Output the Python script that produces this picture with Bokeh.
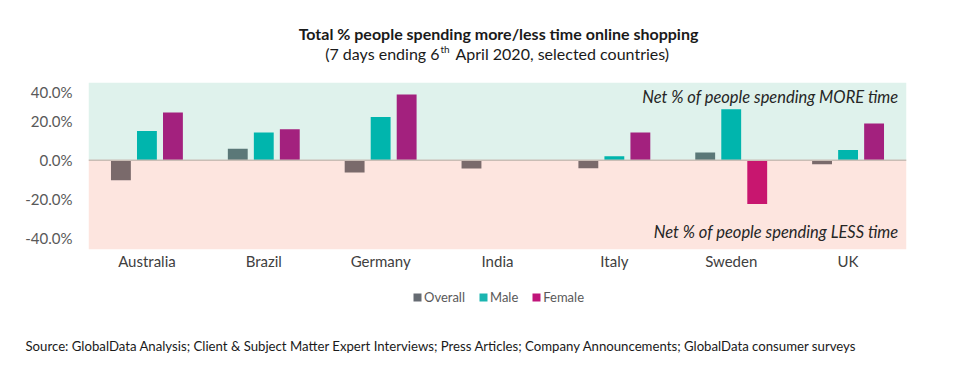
from bokeh.plotting import figure
from bokeh.layouts import column
from bokeh.models import (ColumnDataSource, FactorRange, Range1d, BoxAnnotation, Span,
                          Label, Legend, LegendItem, FixedTicker, CustomJSTickFormatter)
from bokeh.transform import dodge
from bokeh.embed import file_html
from bokeh.resources import INLINE

countries = ["Australia", "Brazil", "Germany", "India", "Italy", "Sweden", "UK"]
overall = [-10.2, 6.0, -6.2, -4.2, -4.0, 4.1, -2.0]
male = [15.1, 14.3, 22.3, 0.0, 2.1, 26.3, 5.3]
female = [24.6, 16.0, 33.8, 0.0, 14.3, -22.4, 18.9]
y_ticks = [-40, -20, 0, 20, 40]
series = ["Overall", "Male", "Female"]
series_colors = ["#666b72", "#1ab5b0", "#c0157a"]

FONT = "Lato"
W = 944

def colors(vals, pos, neg):
    return [pos if v >= 0 else neg for v in vals]

def blank(height):
    f = figure(width=W, height=height, x_range=Range1d(0, W), y_range=Range1d(height, 0),
               output_backend="svg", toolbar_location=None,
               min_border_left=0, min_border_right=0, min_border_top=0, min_border_bottom=0)
    f.axis.visible = False
    f.grid.visible = False
    f.outline_line_color = None
    return f

# ---------- header ----------
head = blank(82)
head.add_layout(Label(x=498, y=33, text="Total % people spending more/less time online shopping",
                      text_align="center", text_baseline="middle", text_font=FONT, text_font_style="bold",
                      text_font_size="16px", text_color="#1a1a1a"))
head.add_layout(Label(x=439, y=53, text="(7 days ending 6",
                      text_align="right", text_baseline="middle", text_font=FONT,
                      text_font_size="16px", text_color="#1a1a1a"))
head.add_layout(Label(x=440, y=48, text="th",
                      text_align="left", text_baseline="middle", text_font=FONT,
                      text_font_size="10px", text_color="#1a1a1a"))
head.add_layout(Label(x=455, y=53, text="April 2020, selected countries)",
                      text_align="left", text_baseline="middle", text_font=FONT,
                      text_font_size="16px", text_color="#1a1a1a"))

# ---------- main chart ----------
src = ColumnDataSource(dict(
    country=countries, overall=overall, male=male, female=female,
    c_overall=colors(overall, "#5b7878", "#7a6a6b"),
    c_male=colors(male, "#00b5ad", "#00b5ad"),
    c_female=colors(female, "#a3217e", "#c8166f"),
))

p = figure(x_range=FactorRange(*countries), y_range=Range1d(-45.8, 40),
           width=W, height=198, output_backend="svg", toolbar_location=None,
           min_border_left=88, min_border_right=38, min_border_top=0, min_border_bottom=31)
p.outline_line_color = None
p.xgrid.visible = False
p.ygrid.visible = False

p.add_layout(BoxAnnotation(bottom=0, fill_color="#dff2ec", fill_alpha=1, line_alpha=0, level="underlay"))
p.add_layout(BoxAnnotation(top=0, fill_color="#fde5df", fill_alpha=1, line_alpha=0, level="underlay"))

w = 0.17
p.vbar(x=dodge("country", -0.2226, range=p.x_range), top="overall", width=w, source=src,
       fill_color="c_overall", line_color=None)
p.vbar(x=dodge("country", 0.0, range=p.x_range), top="male", width=w, source=src,
       fill_color="c_male", line_color=None)
p.vbar(x=dodge("country", 0.2226, range=p.x_range), top="female", width=w, source=src,
       fill_color="c_female", line_color=None)

p.add_layout(Span(location=0, dimension="width", line_color="#c9bdb5", line_width=1.5))

p.yaxis.ticker = FixedTicker(ticks=y_ticks)
p.yaxis.formatter = CustomJSTickFormatter(code="return tick.toFixed(1) + '%';")
p.yaxis.axis_line_color = None
p.yaxis.major_tick_line_color = None
p.yaxis.minor_tick_line_color = None
p.yaxis.major_tick_out = 0
p.yaxis.major_tick_in = 0
p.yaxis.major_label_standoff = 16
p.yaxis.major_label_text_font = FONT
p.yaxis.major_label_text_font_size = "15px"
p.yaxis.major_label_text_color = "#595959"

p.xaxis.axis_line_color = None
p.xaxis.major_tick_line_color = None
p.xaxis.minor_tick_line_color = None
p.xaxis.major_tick_out = 0
p.xaxis.major_tick_in = 0
p.xaxis.major_label_standoff = 2
p.xaxis.major_label_text_font = FONT
p.xaxis.major_label_text_font_size = "15px"
p.xaxis.major_label_text_color = "#404040"

p.add_layout(Label(x=7, y=40, x_offset=-8, y_offset=-14, text="Net % of people spending MORE time",
                   text_align="right", text_baseline="middle", text_font=FONT, text_font_style="italic",
                   text_font_size="16.5px", text_color="#262626"))
p.add_layout(Label(x=7, y=-45.8, x_offset=-8, y_offset=18, text="Net % of people spending LESS time",
                   text_align="right", text_baseline="middle", text_font=FONT, text_font_style="italic",
                   text_font_size="16.5px", text_color="#262626"))

# ---------- footer ----------
foot = blank(87)
items = []
for name, col in zip(series, series_colors):
    r = foot.vbar(x=[-100], top=[0], width=1, fill_color=col, line_color=None)
    items.append(LegendItem(label=name, renderers=[r]))
legend = Legend(items=items, orientation="horizontal", location=(412, 62),
                padding=0, margin=0, spacing=13, glyph_width=10, glyph_height=10,
                label_standoff=2, label_height=10, border_line_color=None, background_fill_alpha=0,
                label_text_font=FONT, label_text_font_size="13px", label_text_color="#595959",
                label_text_baseline="middle")
foot.add_layout(legend, "center")
foot.add_layout(Label(x=25, y=65,
                      text="Source: GlobalData Analysis; Client & Subject Matter Expert Interviews; Press Articles; Company Announcements; GlobalData consumer surveys",
                      text_align="left", text_baseline="middle", text_font=FONT,
                      text_font_size="13.2px", text_color="#1a1a1a"))

layout = column(column(head), p, column(foot), spacing=0)
open("out.html", "w").write(file_html(layout, INLINE))
